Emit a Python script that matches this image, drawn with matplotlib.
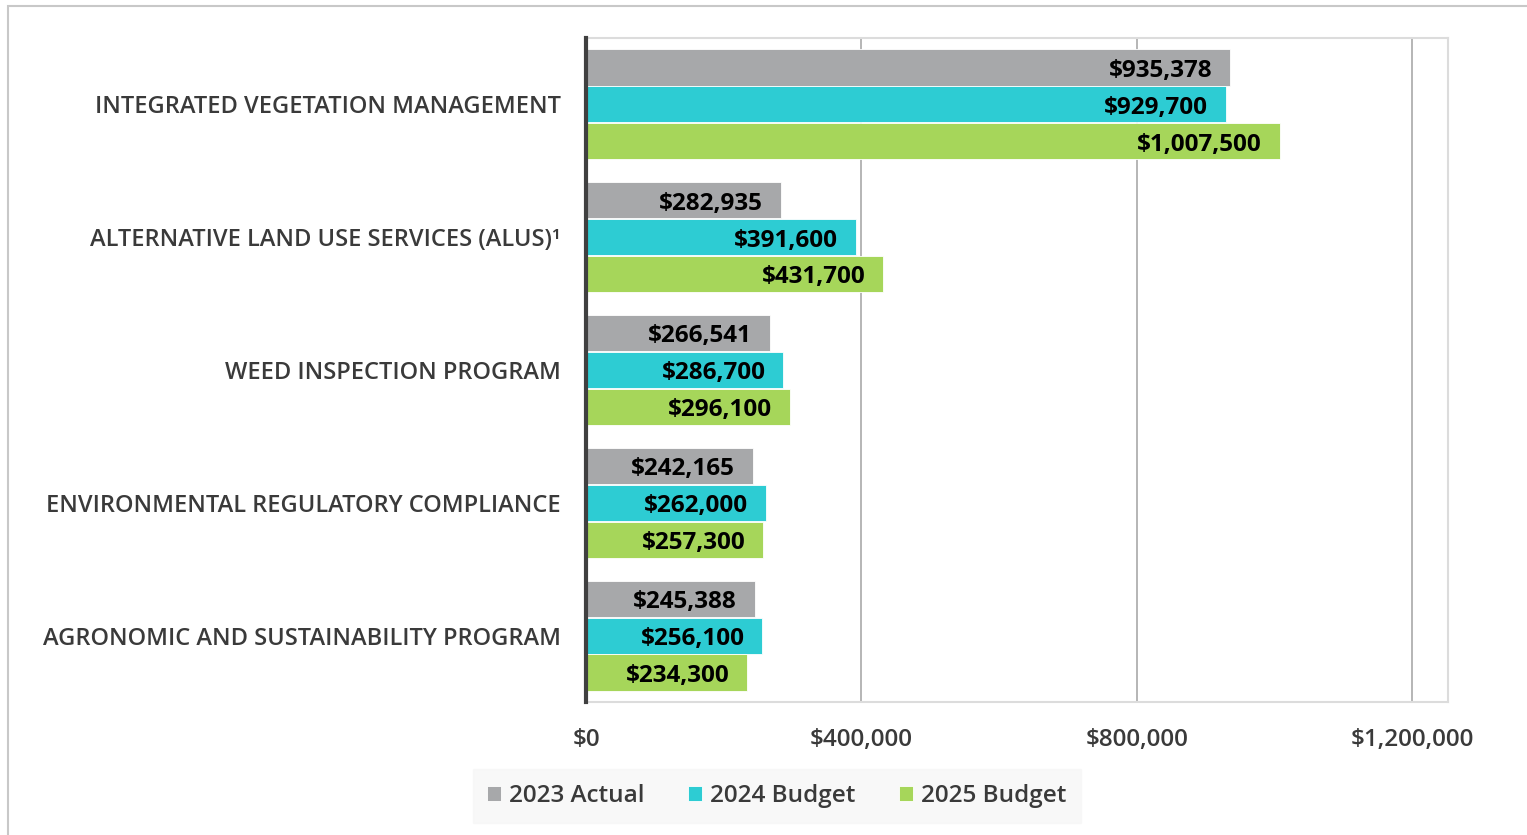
import matplotlib.pyplot as plt
from matplotlib.patches import Rectangle
import numpy as np

# Program budgets
programs = [
    'INTEGRATED VEGETATION MANAGEMENT',
    'ALTERNATIVE LAND USE SERVICES (ALUS)\u00b9',
    'WEED INSPECTION PROGRAM',
    'ENVIRONMENTAL REGULATORY COMPLIANCE',
    'AGRONOMIC AND SUSTAINABILITY PROGRAM',
]
actual_2023 = [935378, 282935, 266541, 242165, 245388]
budget_2024 = [929700, 391600, 286700, 262000, 256100]
budget_2025 = [1007500, 431700, 296100, 257300, 234300]
series_names = ['2023 Actual', '2024 Budget', '2025 Budget']
colors = ['#a7a8aa', '#2dccd3', '#a6d65a']
x_ticks = [0, 400000, 800000, 1200000]

plt.rcParams['font.family'] = ['Open Sans', 'DejaVu Sans']
txt_color = '#3a3a3a'

fig = plt.figure(figsize=(15.27, 8.35), dpi=100)
ax = fig.add_axes([586 / 1527, 1 - 702 / 835, (1448 - 586) / 1527, (702 - 38) / 835])

# outer frame of the graphic
fig.patches.append(Rectangle((8 / 1527, -0.1), 1.2, 1 - 6 / 835 + 0.1,
                             transform=fig.transFigure, fill=False,
                             edgecolor='#c8c8c8', linewidth=1.5))

y = np.arange(len(programs))
h = 0.272
all_series = [actual_2023, budget_2024, budget_2025]
for i, (vals, c) in enumerate(zip(all_series, colors)):
    pos = y + (i - 1) * h * 1.02
    ax.barh(pos, vals, height=h, color=c, edgecolor='white', linewidth=0.6,
            label=series_names[i], zorder=3)
    for p, v in zip(pos, vals):
        ax.text(v - 26000, p + 0.025, f'${v:,.0f}', ha='right', va='center',
                fontsize=17.5, fontweight='bold', color='black', zorder=4)

ax.set_ylim(len(programs) - 0.5, -0.5)
ax.set_xlim(0, 1252000)
ax.set_yticks(y)
ax.set_yticklabels(programs, fontsize=17, color=txt_color, fontweight='semibold')
ax.set_xticks(x_ticks)
ax.set_xticklabels([f'${t:,.0f}' for t in x_ticks], fontsize=17.5, color=txt_color,
                   fontweight='semibold')
ax.tick_params(axis='y', length=0, pad=18)
ax.tick_params(axis='x', length=0, pad=19)

ax.grid(axis='x', color='#b0b0b0', linewidth=1.3, zorder=0)
for s in ['top', 'right', 'bottom']:
    ax.spines[s].set_color('#dcdcdc')
    ax.spines[s].set_linewidth(1.5)
ax.spines['left'].set_color('#404040')
ax.spines['left'].set_linewidth(3)
ax.spines['left'].set_zorder(5)

leg = fig.legend(loc='center', bbox_to_anchor=(777 / 1527, 1 - 796 / 835), ncol=3,
                 prop={'size': 17.5, 'weight': 'semibold'}, frameon=True,
                 fancybox=False, handlelength=0.55, handleheight=0.55,
                 handletextpad=0.35, columnspacing=1.8, borderpad=0.6,
                 labelcolor=txt_color)
leg.get_frame().set_facecolor('#f7f7f7')
leg.get_frame().set_edgecolor('#f7f7f7')

fig.savefig('out.png', dpi=100)
